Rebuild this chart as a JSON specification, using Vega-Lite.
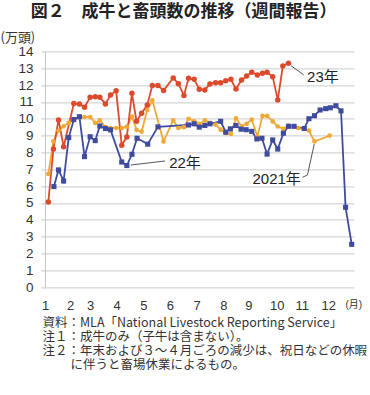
{
  "$schema": "https://vega.github.io/schema/vega-lite/v6.json",
  "width": 309,
  "height": 235.7,
  "autosize": {"type": "none"},
  "padding": {"left": 45, "top": 51.4, "right": 16, "bottom": 108},
  "background": "white",
  "title": {
    "text": "図２　成牛と畜頭数の推移（週間報告）",
    "font": "Noto Sans CJK JP",
    "fontSize": 17,
    "fontWeight": "bold",
    "color": "#222222",
    "anchor": "middle",
    "frame": "group",
    "dx": -16,
    "offset": 10
  },
  "datasets": {
    "series": [
      {"year": "2021", "w": 1.0, "v": 6.72}, {"year": "2021", "w": 2.0, "v": 8.66}, {"year": "2021", "w": 3.0, "v": 9.3},
      {"year": "2021", "w": 4.0, "v": 9.55}, {"year": "2021", "w": 5.0, "v": 9.75}, {"year": "2021", "w": 6.0, "v": 9.95},
      {"year": "2021", "w": 7.1, "v": 10.1}, {"year": "2021", "w": 8.1, "v": 10.1}, {"year": "2021", "w": 9.2, "v": 10.1},
      {"year": "2021", "w": 10.2, "v": 9.75}, {"year": "2021", "w": 11.1, "v": 9.9}, {"year": "2021", "w": 12.2, "v": 9.5},
      {"year": "2021", "w": 13.2, "v": 9.45}, {"year": "2021", "w": 14.3, "v": 9.45}, {"year": "2021", "w": 15.4, "v": 9.45},
      {"year": "2021", "w": 16.4, "v": 9.53}, {"year": "2021", "w": 17.4, "v": 10.13}, {"year": "2021", "w": 18.3, "v": 9.34},
      {"year": "2021", "w": 19.3, "v": 9.24}, {"year": "2021", "w": 20.4, "v": 10.52}, {"year": "2021", "w": 21.4, "v": 11.1},
      {"year": "2021", "w": 23.6, "v": 8.65}, {"year": "2021", "w": 25.5, "v": 9.9}, {"year": "2021", "w": 26.5, "v": 9.45},
      {"year": "2021", "w": 27.6, "v": 9.5}, {"year": "2021", "w": 28.5, "v": 10.0}, {"year": "2021", "w": 29.6, "v": 9.85},
      {"year": "2021", "w": 30.6, "v": 9.7}, {"year": "2021", "w": 31.7, "v": 9.9}, {"year": "2021", "w": 32.7, "v": 9.75},
      {"year": "2021", "w": 33.8, "v": 9.65}, {"year": "2021", "w": 34.8, "v": 9.35}, {"year": "2021", "w": 35.8, "v": 9.15},
      {"year": "2021", "w": 36.8, "v": 9.1}, {"year": "2021", "w": 37.8, "v": 10.03}, {"year": "2021", "w": 38.9, "v": 9.55},
      {"year": "2021", "w": 39.9, "v": 9.7}, {"year": "2021", "w": 40.9, "v": 9.95}, {"year": "2021", "w": 42.0, "v": 8.94},
      {"year": "2021", "w": 43.0, "v": 10.17}, {"year": "2021", "w": 43.9, "v": 10.17}, {"year": "2021", "w": 45.0, "v": 9.84},
      {"year": "2021", "w": 46.0, "v": 9.54}, {"year": "2021", "w": 47.1, "v": 9.4}, {"year": "2021", "w": 48.1, "v": 9.6},
      {"year": "2021", "w": 49.0, "v": 9.55}, {"year": "2021", "w": 50.0, "v": 9.45}, {"year": "2021", "w": 51.1, "v": 9.4},
      {"year": "2021", "w": 52.1, "v": 9.3}, {"year": "2021", "w": 53.2, "v": 8.65}, {"year": "2021", "w": 56.2, "v": 9.0},

      {"year": "2022", "w": 2.1, "v": 5.97}, {"year": "2022", "w": 3.0, "v": 6.96}, {"year": "2022", "w": 4.0, "v": 6.3},
      {"year": "2022", "w": 5.0, "v": 8.88}, {"year": "2022", "w": 6.0, "v": 9.95}, {"year": "2022", "w": 7.1, "v": 10.12},
      {"year": "2022", "w": 8.1, "v": 7.75}, {"year": "2022", "w": 9.2, "v": 8.93}, {"year": "2022", "w": 10.2, "v": 8.7},
      {"year": "2022", "w": 11.1, "v": 9.57}, {"year": "2022", "w": 12.2, "v": 9.42}, {"year": "2022", "w": 13.2, "v": 9.34},
      {"year": "2022", "w": 15.4, "v": 7.43}, {"year": "2022", "w": 16.4, "v": 7.22}, {"year": "2022", "w": 17.4, "v": 7.89},
      {"year": "2022", "w": 18.4, "v": 8.84}, {"year": "2022", "w": 20.5, "v": 8.49}, {"year": "2022", "w": 22.5, "v": 9.52},
      {"year": "2022", "w": 28.5, "v": 9.63}, {"year": "2022", "w": 29.6, "v": 9.7}, {"year": "2022", "w": 30.6, "v": 9.5},
      {"year": "2022", "w": 31.7, "v": 9.6}, {"year": "2022", "w": 32.7, "v": 9.7}, {"year": "2022", "w": 34.8, "v": 9.85},
      {"year": "2022", "w": 35.8, "v": 9.2}, {"year": "2022", "w": 36.7, "v": 9.4}, {"year": "2022", "w": 37.8, "v": 9.6},
      {"year": "2022", "w": 38.8, "v": 9.38}, {"year": "2022", "w": 39.8, "v": 9.35}, {"year": "2022", "w": 40.9, "v": 9.25},
      {"year": "2022", "w": 41.9, "v": 8.8}, {"year": "2022", "w": 42.9, "v": 8.84}, {"year": "2022", "w": 43.9, "v": 7.9},
      {"year": "2022", "w": 45.0, "v": 8.74}, {"year": "2022", "w": 46.0, "v": 8.2}, {"year": "2022", "w": 47.1, "v": 9.14},
      {"year": "2022", "w": 48.1, "v": 9.55}, {"year": "2022", "w": 49.2, "v": 9.55}, {"year": "2022", "w": 51.2, "v": 9.42},
      {"year": "2022", "w": 52.1, "v": 10.0}, {"year": "2022", "w": 53.2, "v": 10.18}, {"year": "2022", "w": 54.3, "v": 10.52},
      {"year": "2022", "w": 55.4, "v": 10.6}, {"year": "2022", "w": 56.3, "v": 10.65}, {"year": "2022", "w": 57.4, "v": 10.77},
      {"year": "2022", "w": 58.4, "v": 10.47}, {"year": "2022", "w": 59.3, "v": 4.74}, {"year": "2022", "w": 60.5, "v": 2.54},

      {"year": "2023", "w": 1.0, "v": 5.05}, {"year": "2023", "w": 2.0, "v": 8.2}, {"year": "2023", "w": 3.0, "v": 9.93},
      {"year": "2023", "w": 4.0, "v": 8.34}, {"year": "2023", "w": 6.0, "v": 10.9}, {"year": "2023", "w": 7.1, "v": 10.88},
      {"year": "2023", "w": 8.1, "v": 10.68}, {"year": "2023", "w": 9.2, "v": 11.27}, {"year": "2023", "w": 10.2, "v": 11.31},
      {"year": "2023", "w": 11.1, "v": 11.27}, {"year": "2023", "w": 12.2, "v": 10.88}, {"year": "2023", "w": 13.2, "v": 11.41},
      {"year": "2023", "w": 14.3, "v": 11.66}, {"year": "2023", "w": 15.4, "v": 8.42}, {"year": "2023", "w": 16.4, "v": 8.92},
      {"year": "2023", "w": 17.4, "v": 11.51}, {"year": "2023", "w": 18.3, "v": 9.85}, {"year": "2023", "w": 19.3, "v": 10.32},
      {"year": "2023", "w": 20.4, "v": 10.82}, {"year": "2023", "w": 21.4, "v": 11.97}, {"year": "2023", "w": 22.5, "v": 11.97},
      {"year": "2023", "w": 23.6, "v": 11.68}, {"year": "2023", "w": 25.5, "v": 12.42}, {"year": "2023", "w": 26.5, "v": 12.08},
      {"year": "2023", "w": 27.6, "v": 11.38}, {"year": "2023", "w": 28.5, "v": 12.4}, {"year": "2023", "w": 29.6, "v": 12.34},
      {"year": "2023", "w": 30.6, "v": 11.75}, {"year": "2023", "w": 31.7, "v": 11.71}, {"year": "2023", "w": 32.7, "v": 12.07},
      {"year": "2023", "w": 33.8, "v": 12.14}, {"year": "2023", "w": 34.8, "v": 12.14}, {"year": "2023", "w": 35.8, "v": 12.26},
      {"year": "2023", "w": 36.8, "v": 12.34}, {"year": "2023", "w": 37.8, "v": 11.77}, {"year": "2023", "w": 38.9, "v": 12.3},
      {"year": "2023", "w": 39.9, "v": 12.54}, {"year": "2023", "w": 40.9, "v": 12.76}, {"year": "2023", "w": 42.0, "v": 12.6},
      {"year": "2023", "w": 43.0, "v": 12.7}, {"year": "2023", "w": 43.9, "v": 12.76}, {"year": "2023", "w": 45.0, "v": 12.5},
      {"year": "2023", "w": 46.0, "v": 11.12}, {"year": "2023", "w": 47.0, "v": 13.14}, {"year": "2023", "w": 48.1, "v": 13.3}
    ],
    "labels": [
      {"w": 54.86, "v": 12.5, "t": "23年"},
      {"w": 27.8, "v": 7.39, "t": "22年"},
      {"w": 45.78, "v": 6.4, "t": "2021年"}
    ],
    "leaders": [
      {"id": "a", "o": 1, "w": 48.6, "v": 13.15}, {"id": "a", "o": 2, "w": 51.1, "v": 12.6},
      {"id": "b", "o": 1, "w": 17.16, "v": 7.25}, {"id": "b", "o": 2, "w": 23.9, "v": 7.49},
      {"id": "c", "o": 1, "w": 50.84, "v": 6.52}, {"id": "c", "o": 2, "w": 51.82, "v": 6.66}, {"id": "c", "o": 3, "w": 53.16, "v": 8.5}
    ]
  },
  "encoding": {
    "x": {
      "field": "w",
      "type": "quantitative",
      "scale": {"domain": [0.35, 60.95], "nice": false, "zero": false},
      "axis": {
        "values": [0.35, 5.25, 9.18, 14.41, 19.63, 24.86, 30.1, 35.31, 40.22, 45.78, 50.69, 55.9, 60.8],
        "labelExpr": "datum.value > 60 ? '(月)' : '' + (indexof([0.35,5.25,9.18,14.41,19.63,24.86,30.1,35.31,40.22,45.78,50.69,55.9], datum.value) + 1)",
        "grid": false,
        "domain": false,
        "ticks": false,
        "labelFlush": false,
        "labelOverlap": false,
        "labelBound": false,
        "labelPadding": 12,
        "labelFont": "Liberation Sans, Noto Sans CJK JP",
        "labelFontSize": {"condition": {"test": "datum.value > 60", "value": 10}, "value": 13},
        "labelColor": "#333333",
        "title": [
          "資料：MLA「National Livestock Reporting Service」",
          "注１：成牛のみ（子牛は含まない）。",
          "注２：年末および３～４月ごろの減少は、祝日などの休暇",
          "\u200b\u3000\u3000\u2005に伴うと畜場休業によるもの。"
        ],
        "titleFont": "Noto Sans CJK JP",
        "titleFontSize": 12.5,
        "titleFontWeight": "normal",
        "titleColor": "#333333",
        "titleAlign": "left",
        "titleAnchor": "start",
        "titleBaseline": "top",
        "titleX": -3,
        "titleY": 29,
        "titleLineHeight": 14.2
      }
    },
    "y": {
      "field": "v",
      "type": "quantitative",
      "scale": {"domain": [0, 14], "nice": false},
      "axis": {
        "values": [0, 1, 2, 3, 4, 5, 6, 7, 8, 9, 10, 11, 12, 13, 14],
        "format": "d",
        "grid": true,
        "gridColor": "#d5d5d5",
        "gridWidth": 1.4,
        "domain": true,
        "domainColor": "#c4c4c4",
        "domainWidth": 1,
        "ticks": true,
        "tickSize": 4,
        "tickColor": "#d5d5d5",
        "tickWidth": 1.4,
        "labelPadding": 8,
        "labelFont": "Liberation Sans",
        "labelFontSize": 13.5,
        "labelColor": "#333333",
        "title": "(万頭)",
        "titleAngle": 0,
        "titleX": -45,
        "titleY": -14,
        "titleAlign": "left",
        "titleBaseline": "middle",
        "titleFont": "Noto Sans CJK JP",
        "titleFontSize": 13,
        "titleFontWeight": "normal",
        "titleColor": "#333333"
      }
    }
  },
  "layer": [
    {
      "data": {"name": "series"},
      "mark": {"type": "line", "strokeWidth": 1.8},
      "encoding": {
        "color": {
          "field": "year",
          "type": "nominal",
          "scale": {"domain": ["2021", "2022", "2023"], "range": ["#f0a934", "#3f4b9d", "#dd4a2b"]},
          "legend": null
        },
        "order": {"field": "w", "type": "quantitative"}
      }
    },
    {
      "data": {"name": "series"},
      "mark": {"type": "point", "filled": true, "opacity": 1},
      "encoding": {
        "color": {
          "field": "year",
          "type": "nominal",
          "scale": {"domain": ["2021", "2022", "2023"], "range": ["#f0a934", "#3f4b9d", "#dd4a2b"]},
          "legend": null
        },
        "shape": {
          "field": "year",
          "type": "nominal",
          "scale": {"domain": ["2021", "2022", "2023"], "range": ["circle", "square", "circle"]},
          "legend": null
        },
        "size": {
          "field": "year",
          "type": "nominal",
          "scale": {"domain": ["2021", "2022", "2023"], "range": [22, 30, 40]},
          "legend": null
        }
      }
    },
    {
      "data": {"name": "leaders"},
      "mark": {"type": "line", "color": "#555555", "strokeWidth": 1},
      "encoding": {
        "detail": {"field": "id"},
        "order": {"field": "o", "type": "quantitative"}
      }
    },
    {
      "data": {"name": "labels"},
      "mark": {"type": "text", "font": "Liberation Sans, Noto Sans CJK JP", "fontSize": 15, "color": "#222222", "align": "center", "baseline": "middle"},
      "encoding": {
        "text": {"field": "t"}
      }
    }
  ],
  "config": {
    "view": {"stroke": null}
  }
}
